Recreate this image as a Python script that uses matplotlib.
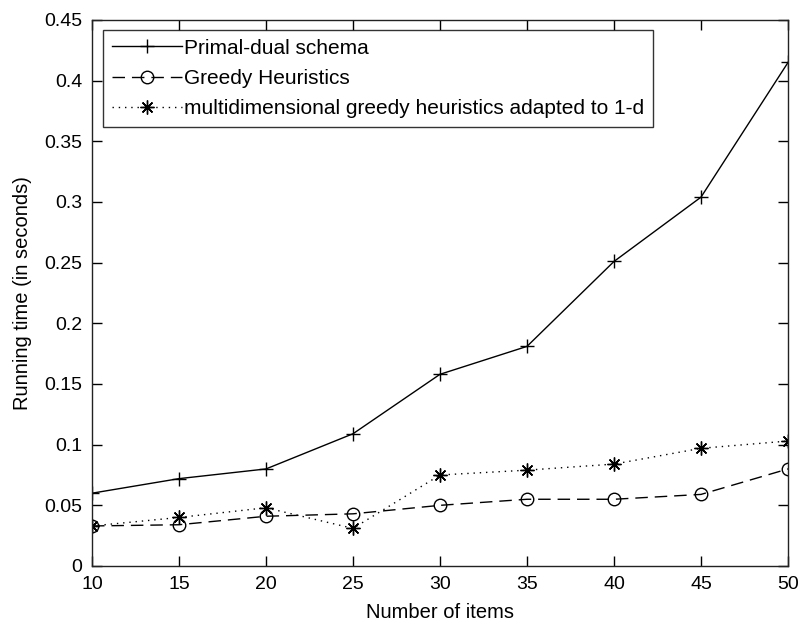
import matplotlib
matplotlib.use("Agg")
import matplotlib.pyplot as plt

items = [10, 15, 20, 25, 30, 35, 40, 45, 50]
primal_dual = [0.060, 0.072, 0.080, 0.109, 0.158, 0.181, 0.251, 0.304, 0.415]
greedy = [0.033, 0.034, 0.041, 0.043, 0.050, 0.055, 0.055, 0.059, 0.080]
multi_greedy = [0.033, 0.040, 0.048, 0.031, 0.075, 0.079, 0.084, 0.097, 0.103]

labels = ["Primal-dual schema", "Greedy Heuristics",
          "multidimensional greedy heuristics adapted to 1-d"]
yticks = [0, 0.05, 0.1, 0.15, 0.2, 0.25, 0.3, 0.35, 0.4, 0.45]
yticklabels = ["0", "0.05", "0.1", "0.15", "0.2", "0.25", "0.3", "0.35", "0.4", "0.45"]

plt.rcParams['font.family'] = ['Liberation Sans', 'DejaVu Sans']
FS_TICK = 14
FS_TEXT = 14.5
FS_LEG = 15

fig = plt.figure(figsize=(8.01, 6.26), dpi=100)
ax = fig.add_axes([92/801, 1 - 566/626, (788-92)/801, (566-20)/626])

ax.plot(items, primal_dual, color='black', linestyle='-', marker='+',
        markersize=10, markeredgewidth=1.0, linewidth=1.0, label=labels[0])
ax.plot(items, greedy, color='black', linestyle=(0, (9, 5)), marker='o',
        markersize=9, markerfacecolor='none', markeredgewidth=1.0,
        linewidth=1.0, label=labels[1])
ax.plot(items, multi_greedy, color='black', linestyle=(0, (1, 3.5)),
        marker=(8, 2, 0), markersize=10, markeredgewidth=1.0, linewidth=1.0,
        label=labels[2])

ax.set_xlim(10, 50)
ax.set_ylim(0, 0.45)
ax.set_xticks(items)
ax.set_yticks(yticks)
ax.set_yticklabels(yticklabels)
ax.tick_params(direction='in', length=7, top=True, right=True, width=1.0,
               colors='black', labelsize=FS_TICK)
ax.tick_params(axis='x', pad=7)
ax.tick_params(axis='y', pad=7)
for s in ax.spines.values():
    s.set_linewidth(1.0)
    s.set_color('#222222')

ax.set_xlabel("Number of items", fontsize=FS_TEXT, va='center')
ax.set_ylabel("Running time (in seconds)", fontsize=FS_TEXT, va='center')
ax.xaxis.set_label_coords(0.5, -(612 - 566) / 546)
ax.yaxis.set_label_coords(-(92 - 23) / 696, 0.5)

leg = ax.legend(loc='upper left', bbox_to_anchor=(11/696, 1 - 10/546),
                borderaxespad=0, frameon=True, fancybox=False,
                handlelength=3.4, handletextpad=0.1, labelspacing=0.54,
                borderpad=0.41, fontsize=FS_LEG)
leg.get_frame().set_edgecolor('black')
leg.get_frame().set_linewidth(1.0)

fig.savefig("out.png", dpi=100)
